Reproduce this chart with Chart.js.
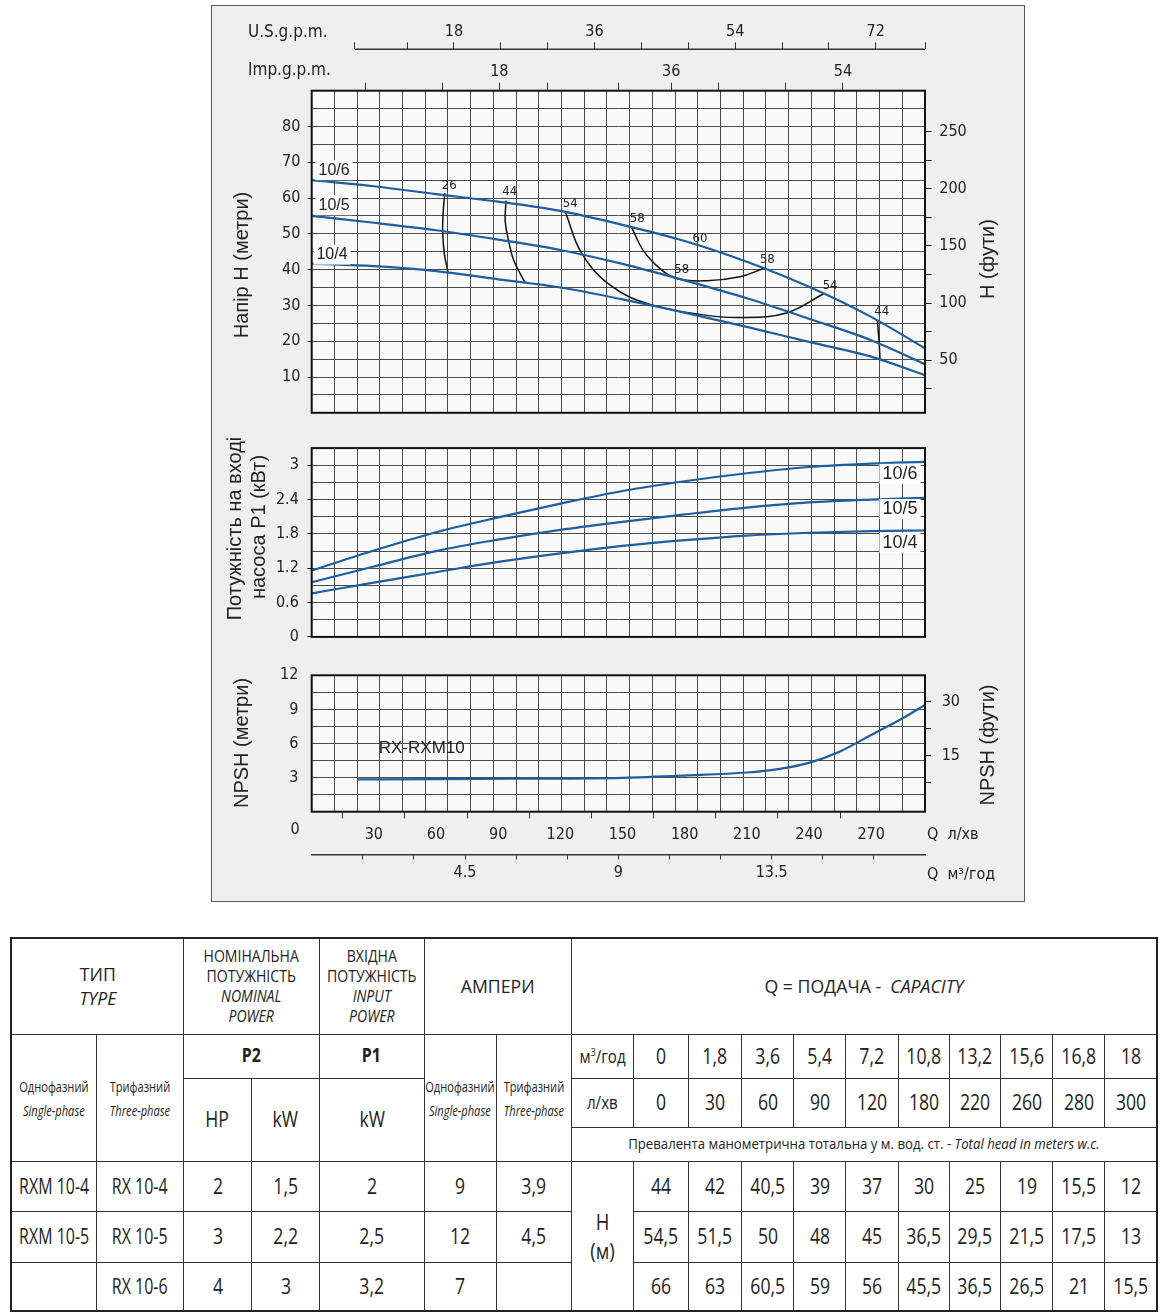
<!DOCTYPE html>
<html lang="uk">
<head>
<meta charset="utf-8">
<title>RX / RXM 10</title>
<script src="https://cdn.jsdelivr.net/npm/chart.js@4.4.1/dist/chart.umd.min.js"></script>
<style>
  html, body { margin: 0; padding: 0; background: #fff; }
  body { width: 1164px; height: 1315px; position: relative; overflow: hidden; }
  #box { position: absolute; left: 211px; top: 5px; width: 812px; height: 895px; border: 1.5px solid #5a5a5a; background: #efefef; }
  canvas { position: absolute; left: 212px; }
  #cHead { top: 6px; }
  #cPower { top: 430px; }
  #cNpsh { top: 655px; }
  #tbl { position: absolute; left: 10px; top: 937px; border-collapse: collapse; table-layout: fixed; width: 1148px;
         font-family: 'Open Sans', sans-serif; color: #222; border: 2px solid #222; }
  #tbl td { border: 1.5px solid #333; text-align: center; vertical-align: middle; padding: 0; font-size: 21px; line-height: 1.15; overflow: visible; }
  #tbl .f { display: flex; justify-content: center; align-items: center; }
  #tbl .s { display: block; white-space: nowrap; transform: scaleX(0.84); }
  #tbl td.md .s { transform: scaleX(0.76); }
  #tbl td.hd { font-size: 19px; line-height: 1.3; }
  #tbl td.hd .s { transform: scaleX(0.93); }
  #tbl td.hs { font-size: 16px; line-height: 1.25; }
  #tbl td.hs .s { transform: scaleX(0.88); }
  #tbl td.ph { font-size: 15px; line-height: 1.6; }
  #tbl td.ph .s { transform: scaleX(0.74); }
  #tbl td.pb { font-weight: bold; font-size: 19px; }
  #tbl td.un { font-size: 18px; }
  #tbl td.nt { font-size: 15px; }
  #tbl td.nt .s { transform: scaleX(0.88); }
  #tbl td.hm { font-size: 22px; line-height: 1.3; }
  #tbl sup { font-size: 11px; }
</style>
</head>
<body>
<div id="box"></div>
<canvas id="cHead" width="812" height="424"></canvas>
<canvas id="cPower" width="812" height="225"></canvas>
<canvas id="cNpsh" width="812" height="245"></canvas>
<table id="tbl"></table>
<script>
// Q, л/хв
const flowLpm = [0, 30, 60, 90, 120, 150, 180, 210, 240, 270, 296];
// напір H, м
const head104 = [41.7, 41.0, 39.6, 37.3, 35.0, 31.7, 28.0, 24.0, 19.8, 15.7, 10.5];
const head105 = [55.0, 53.1, 51.0, 48.4, 45.5, 41.6, 37.0, 32.0, 26.3, 20.3, 13.6];
const head106 = [65.0, 63.3, 61.1, 59.0, 56.4, 52.5, 48.0, 42.2, 35.2, 26.8, 18.0];
// P1, кВт
const power104 = [0.76, 0.95, 1.13, 1.31, 1.46, 1.59, 1.69, 1.77, 1.82, 1.85, 1.86];
const power105 = [0.955, 1.23, 1.50, 1.70, 1.87, 2.01, 2.14, 2.26, 2.35, 2.40, 2.43];
const power106 = [1.16, 1.51, 1.83, 2.09, 2.33, 2.55, 2.72, 2.86, 2.97, 3.03, 3.06];
// NPSH, м
const npshFlow = [22, 60, 100, 150, 180, 210, 225, 240, 255, 270, 285, 296];
const npshM = [2.85, 2.86, 2.90, 2.98, 3.18, 3.45, 3.75, 4.3, 5.3, 6.75, 8.2, 9.4];

// ККД, [Q, H]
const eff26 = [[64.2, 61.4], [63.5, 56.4], [63.2, 50.9], [64.0, 44.5], [65.8, 39.3]];
const eff44a = [[93.8, 59.3], [93.4, 53.5], [95.1, 47.9], [97.5, 42.6], [103.1, 36.2]];
const eff54 = [[122.4, 56.2], [130.4, 44.5], [144.9, 35.3], [163.3, 30.3], [187.4, 27.5], [206.7, 26.6], [229.2, 27.9], [246.9, 33.2]];
const eff58 = [[154.4, 51.8], [160.0, 45.4], [168.1, 40.3], [176.1, 37.5], [190.6, 36.9], [206.7, 38.0], [217.9, 40.3]];
const eff44b = [[273.0, 25.9], [273.9, 19.3], [274.3, 15.0]];
const effLabels = [['26', 66.4, 63.6], ['44', 95.6, 61.7], ['54', 124.8, 58.4], ['58', 157.1, 54.3], ['60', 187.4, 48.8],
  ['58', 178.6, 40.0], ['58', 219.9, 42.8], ['54', 250.2, 35.6], ['44', 275.1, 28.4]];

// tick labels
const usLabels = [18, 36, 54, 72];
const usTicks = [5.3, 12, 18, 24, 30, 36, 42, 48, 54, 60, 66, 72, 78.3];
const impLabels = [18, 36, 54];
const impTicks = [4, 12, 18, 23, 30.5, 36, 41, 48, 54];
const qLabels = [30, 60, 90, 120, 150, 180, 210, 240, 270];
const m3Labels = [4.5, 9, 13.5];

// таблиця
const tblM3 = ['0', '1,8', '3,6', '5,4', '7,2', '10,8', '13,2', '15,6', '16,8', '18'];
const tblLpm = ['0', '30', '60', '90', '120', '180', '220', '260', '280', '300'];
const tblSingle = ['RXM 10-4', 'RXM 10-5', ''];
const tblThree = ['RX 10-4', 'RX 10-5', 'RX 10-6'];
const tblHp = ['2', '3', '4'];
const tblKw = ['1,5', '2,2', '3'];
const tblP1 = ['2', '2,5', '3,2'];
const tblAmp1 = ['9', '12', '7'];
const tblAmp3 = ['3,9', '4,5', ''];
const tblHead = [
  ['44', '42', '40,5', '39', '37', '30', '25', '19', '15,5', '12'],
  ['54,5', '51,5', '50', '48', '45', '36,5', '29,5', '21,5', '17,5', '13'],
  ['66', '63', '60,5', '59', '56', '45,5', '36,5', '26,5', '21', '15,5']
];

const F_COND = "'DejaVu Sans Condensed', 'Liberation Sans Narrow', 'Liberation Sans', sans-serif";
const F_SANS = "'Liberation Sans', Arial, sans-serif";
const BLUE = '#1f5e9c';
const GRID = '#4a4a4a';
const INK = '#222';
const PLOT_BG = '#f9f9f9';
const flowMax = 296;
const gridCols = Array.from({ length: 28 }, (_, i) => i * flowMax / 27);
const tickFont = { family: F_COND, size: 16 };

const framePlugin = {
  id: 'frame',
  beforeDraw(chart) {
    const a = chart.chartArea, ctx = chart.ctx;
    ctx.save();
    ctx.fillStyle = PLOT_BG;
    ctx.fillRect(a.left, a.top, a.width, a.height);
    ctx.restore();
  },
  afterDatasetsDraw(chart) {
    const a = chart.chartArea, ctx = chart.ctx;
    ctx.save();
    ctx.strokeStyle = '#111';
    ctx.lineWidth = 2;
    ctx.strokeRect(a.left, a.top, a.width, a.height);
    ctx.restore();
  }
};

const textPlugin = {
  id: 'texts',
  afterDraw(chart, args, opts) {
    const ctx = chart.ctx;
    (opts.items || []).forEach(it => {
      let x = it.x, y = it.y;
      if (it.q !== undefined) {
        x = chart.scales.x.getPixelForValue(it.q);
        y = chart.scales.y.getPixelForValue(it.v);
      }
      ctx.save();
      ctx.translate(x, y);
      if (it.rot) ctx.rotate(it.rot);
      ctx.font = it.font;
      ctx.textAlign = it.align || 'center';
      ctx.textBaseline = 'middle';
      if (it.bg) {
        const w = ctx.measureText(it.text).width;
        ctx.fillStyle = it.bg;
        ctx.fillRect(-w / 2 - 3, -10, w + 6, 20);
      }
      ctx.fillStyle = it.color || INK;
      ctx.fillText(it.text, 0, 0);
      ctx.restore();
    });
  }
};

const usLinePlugin = {
  id: 'usLine',
  afterDraw(chart) {
    const s = chart.scales.us, ctx = chart.ctx;
    ctx.save();
    ctx.strokeStyle = '#333';
    ctx.lineWidth = 1.5;
    ctx.beginPath();
    ctx.moveTo(s.getPixelForValue(usTicks[0]), s.bottom);
    ctx.lineTo(chart.chartArea.right, s.bottom);
    ctx.stroke();
    ctx.restore();
  }
};

function gridX() {
  return {
    type: 'linear', position: 'bottom', min: 0, max: flowMax,
    afterBuildTicks: s => { s.ticks = gridCols.map(v => ({ value: v })); },
    grid: { color: GRID, lineWidth: 1, drawTicks: false },
    border: { display: false },
    ticks: { display: false, autoSkip: false },
    afterFit: s => { s.height = 0; }
  };
}

function curve(xs, ys, yAxis) {
  return {
    data: xs.map((q, i) => ({ x: q, y: ys[i] })),
    borderColor: BLUE, borderWidth: 2.2, pointRadius: 0,
    cubicInterpolationMode: 'monotone', xAxisID: 'x', yAxisID: yAxis || 'y'
  };
}

function arc(pairs) {
  return {
    data: pairs.map(p => ({ x: p[0], y: p[1] })),
    borderColor: '#111', borderWidth: 1.5, pointRadius: 0, tension: 0.4,
    xAxisID: 'x', yAxisID: 'y'
  };
}

function baseOptions(padding, items) {
  return {
    responsive: false, animation: false, events: [],
    layout: { padding: padding },
    plugins: { legend: { display: false }, tooltip: { enabled: false }, texts: { items: items } }
  };
}

// ---- напір ----
const headItems = [
  { text: 'Напір H (метри)', x: 30, y: 259, rot: -Math.PI / 2, font: `20px ${F_SANS}` },
  { text: 'H (фути)', x: 776, y: 253, rot: -Math.PI / 2, font: `20px ${F_SANS}` },
  { text: 'U.S.g.p.m.', x: 36, y: 27, align: 'left', font: `17px ${F_COND}` },
  { text: 'Imp.g.p.m.', x: 36, y: 65, align: 'left', font: `17px ${F_COND}` },
  { text: '10/6', q: 10.8, v: 67.8, font: `16px ${F_SANS}`, bg: PLOT_BG },
  { text: '10/5', q: 10.8, v: 58.0, font: `16px ${F_SANS}`, bg: PLOT_BG },
  { text: '10/4', q: 9.8, v: 44.2, font: `16px ${F_SANS}`, bg: PLOT_BG }
].concat(effLabels.map(l => ({ text: l[0], q: l[1], v: l[2], font: `13px ${F_COND}` })));

const headOpts = baseOptions({ bottom: 11.5 }, headItems);
headOpts.scales = {
  x: gridX(),
  y: {
    type: 'linear', position: 'left', min: 0, max: 90,
    grid: { color: GRID, tickLength: 4, tickColor: c => (c.tick && c.tick.value % 10 === 0 && c.tick.value > 0 && c.tick.value < 90) ? INK : 'transparent' },
    border: { display: false },
    ticks: { stepSize: 5, autoSkip: false, padding: 7.4, color: INK, font: tickFont,
      callback: v => (v % 10 === 0 && v > 0 && v < 90) ? String(v) : '' },
    afterFit: s => { s.width = 99.7; }
  },
  yr: {
    type: 'linear', position: 'right', min: 4, max: 285.8,
    afterBuildTicks: s => { s.ticks = s.ticks.filter(t => t.value % 25 === 0 && t.value > 0); },
    grid: { drawOnChartArea: false, tickLength: 6.7, tickColor: INK },
    border: { display: false },
    ticks: { stepSize: 25, autoSkip: false, padding: 7.6, color: INK, font: tickFont,
      callback: v => v % 50 === 0 ? String(v) : '' },
    afterFit: s => { s.width = 99; }
  },
  imp: {
    type: 'linear', position: 'top', weight: 1, min: -1.66, max: 62.6,
    afterBuildTicks: s => { s.ticks = impTicks.map(v => ({ value: v })); },
    grid: { drawOnChartArea: false, tickLength: 8, tickColor: '#333' },
    border: { display: false },
    ticks: { autoSkip: false, maxRotation: 0, padding: 1.4, color: INK, font: tickFont,
      callback: v => impLabels.includes(v) ? String(v) : '' },
    afterFit: s => { s.height = 41.4; }
  },
  us: {
    type: 'linear', position: 'top', weight: 2, min: -0.2, max: 78.3,
    afterBuildTicks: s => { s.ticks = usTicks.map(v => ({ value: v })); },
    grid: { drawOnChartArea: false, tickLength: 7, tickColor: '#333' },
    border: { display: false },
    ticks: { autoSkip: false, maxRotation: 0, padding: 1, color: INK, font: tickFont,
      callback: v => usLabels.includes(v) ? String(v) : '' },
    afterFit: s => { s.height = 43.3; }
  }
};

new Chart(document.getElementById('cHead'), {
  type: 'line',
  data: {
    datasets: [
      curve(flowLpm, head106), curve(flowLpm, head105), curve(flowLpm, head104),
      arc(eff26), arc(eff44a), arc(eff54), arc(eff58), arc(eff44b)
    ]
  },
  options: headOpts,
  plugins: [framePlugin, textPlugin, usLinePlugin]
});

// ---- потужність ----
const powerItems = [
  { text: 'Потужність на вході', x: 23, y: 98.5, rot: -Math.PI / 2, font: `20px ${F_SANS}` },
  { text: 'насоса P1 (кВт)', x: 47, y: 97, rot: -Math.PI / 2, font: `20px ${F_SANS}` },
  { text: '10/6', q: 283.9, v: 2.85, font: `18px ${F_SANS}`, bg: '#ffffff' },
  { text: '10/5', q: 283.9, v: 2.235, font: `18px ${F_SANS}`, bg: '#ffffff' },
  { text: '10/4', q: 283.9, v: 1.646, font: `18px ${F_SANS}`, bg: '#ffffff' }
];
const powerOpts = baseOptions({ top: 12.3, bottom: 13.3, right: 99 }, powerItems);
const isPowerLabel = v => { const k = Math.round(v / 0.3); return k % 2 === 0 && k < 11; };
powerOpts.scales = {
  x: gridX(),
  y: {
    type: 'linear', position: 'left', min: 0, max: 3.3,
    grid: { color: GRID, tickLength: 4.4, tickColor: c => (c.tick && isPowerLabel(c.tick.value)) ? INK : 'transparent' },
    border: { display: false },
    ticks: { stepSize: 0.3, autoSkip: false, padding: 8.5, color: INK, font: tickFont,
      callback: v => isPowerLabel(v) ? String(Math.round(v * 10) / 10) : '' },
    afterFit: s => { s.width = 99.7; }
  }
};

new Chart(document.getElementById('cPower'), {
  type: 'line',
  data: { datasets: [curve(flowLpm, power106), curve(flowLpm, power105), curve(flowLpm, power104)] },
  options: powerOpts,
  plugins: [framePlugin, textPlugin]
});

// ---- NPSH ----
const npshItems = [
  { text: 'NPSH (метри)', x: 30, y: 88, rot: -Math.PI / 2, font: `20px ${F_SANS}` },
  { text: 'NPSH (фути)', x: 776, y: 90, rot: -Math.PI / 2, font: `20px ${F_SANS}` },
  { text: 'RX-RXM10', q: 53.1, v: 5.58, font: `17px ${F_SANS}` },
  { text: '0', x: 83, y: 175, font: `16px ${F_COND}` },
  { text: 'Q  л/хв', x: 715, y: 180, align: 'left', font: `16px ${F_COND}` },
  { text: 'Q  м³/год', x: 715, y: 220, align: 'left', font: `16px ${F_COND}` }
];
const npshOpts = baseOptions({ top: 11.7, bottom: 5 }, npshItems);
const isNpshLabel = v => { const k = Math.round(v / 1.5); return k % 2 === 0 && k > 0; };
npshOpts.scales = {
  x: gridX(),
  y: {
    type: 'linear', position: 'left', min: 0, max: 12,
    grid: { color: GRID, tickLength: 4, tickColor: 'transparent' },
    border: { display: false },
    ticks: { stepSize: 1.5, autoSkip: false, padding: 9.4, color: INK, font: tickFont,
      callback: v => isNpshLabel(v) ? String(v) : '' },
    afterFit: s => { s.width = 99.7; }
  },
  yr: {
    type: 'linear', position: 'right', min: -0.44, max: 37.2,
    afterBuildTicks: s => { s.ticks = s.ticks.filter(t => t.value > 0 && t.value < 37); },
    grid: { drawOnChartArea: false, tickLength: 6, tickColor: INK },
    border: { display: false },
    ticks: { stepSize: 7.5, autoSkip: false, padding: 10.7, color: INK, font: tickFont,
      callback: v => v % 15 === 0 ? String(v) : '' },
    afterFit: s => { s.width = 99; }
  },
  q: {
    type: 'linear', position: 'bottom', weight: 1, min: 0, max: flowMax,
    afterBuildTicks: s => { s.ticks = s.ticks.filter(t => t.value > 0 && t.value < flowMax); },
    grid: { drawOnChartArea: false, tickLength: 6.7, tickColor: c => (c.tick && qLabels.includes(c.tick.value)) ? 'transparent' : '#333' },
    border: { display: false },
    ticks: { stepSize: 15, autoSkip: false, maxRotation: 0, padding: 7, color: INK, font: tickFont,
      callback: v => qLabels.includes(v) ? String(v) : '' },
    afterFit: s => { s.height = 43.3; }
  },
  m3: {
    type: 'linear', position: 'bottom', weight: 2, min: 0, max: 18,
    afterBuildTicks: s => { s.ticks = s.ticks.filter(t => t.value > 0 && t.value < 18); },
    grid: { drawOnChartArea: false, tickLength: 4.5, tickColor: '#333' },
    border: { display: true, color: '#333', width: 1.5 },
    ticks: { stepSize: 1.5, autoSkip: false, maxRotation: 0, padding: 4.2, color: INK, font: tickFont,
      callback: v => m3Labels.includes(v) ? String(v) : '' },
    afterFit: s => { s.height = 40; }
  }
};

new Chart(document.getElementById('cNpsh'), {
  type: 'line',
  data: { datasets: [curve(npshFlow, npshM)] },
  options: npshOpts,
  plugins: [framePlugin, textPlugin]
});

// ---- таблиця ----
const colW = [85.5, 87, 68, 68, 104.5, 72.5, 75, 62, 55, 53, 52, 52, 53, 51, 51, 52, 52, 52.5];
const wrap = v => `<div class="f"><span class="s">${v}</span></div>`;
const td = (v, attrs) => `<td${attrs ? ' ' + attrs : ''}>${wrap(v)}</td>`;
const cells = arr => arr.map(v => td(v)).join('');
let html = '<colgroup>' + colW.map(w => `<col style="width:${w}px">`).join('') + '</colgroup>';
html += '<tr style="height:96px">' +
  td('ТИП<br><i>TYPE</i>', 'colspan="2" class="hd"') +
  td('НОМІНАЛЬНА<br>ПОТУЖНІСТЬ<br><i>NOMINAL<br>POWER</i>', 'colspan="2" class="hs"') +
  td('ВХІДНА<br>ПОТУЖНІСТЬ<br><i>INPUT<br>POWER</i>', 'class="hs"') +
  td('АМПЕРИ', 'colspan="2" class="hd"') +
  td('Q = ПОДАЧА -&nbsp; <i>CAPACITY</i>', 'colspan="11" class="hd"') + '</tr>';
html += '<tr style="height:44px">' +
  td('Однофазний<br><i>Single-phase</i>', 'rowspan="3" class="ph"') +
  td('Трифазний<br><i>Three-phase</i>', 'rowspan="3" class="ph"') +
  td('P2', 'colspan="2" class="pb"') + td('P1', 'class="pb"') +
  td('Однофазний<br><i>Single-phase</i>', 'rowspan="3" class="ph"') +
  td('Трифазний<br><i>Three-phase</i>', 'rowspan="3" class="ph"') +
  td('м<sup>3</sup>/год', 'class="un"') + cells(tblM3) + '</tr>';
html += '<tr style="height:49px">' + td('HP', 'rowspan="2"') + td('kW', 'rowspan="2"') + td('kW', 'rowspan="2"') +
  td('л/хв', 'class="un"') + cells(tblLpm) + '</tr>';
html += '<tr style="height:34px">' +
  td('Превалента манометрична тотальна у м. вод. ст. - <i>Total head in meters w.c.</i>', 'colspan="11" class="nt"') + '</tr>';
[50, 51, 49].forEach((h, i) => {
  html += `<tr style="height:${h}px">` +
    td(tblSingle[i], 'class="md"') + td(tblThree[i], 'class="md"') +
    cells([tblHp[i], tblKw[i], tblP1[i], tblAmp1[i], tblAmp3[i]]) +
    (i === 0 ? td('H<br>(м)', 'rowspan="3" class="hm"') : '') +
    cells(tblHead[i]) + '</tr>';
});
document.getElementById('tbl').innerHTML = html;
</script>
</body>
</html>
